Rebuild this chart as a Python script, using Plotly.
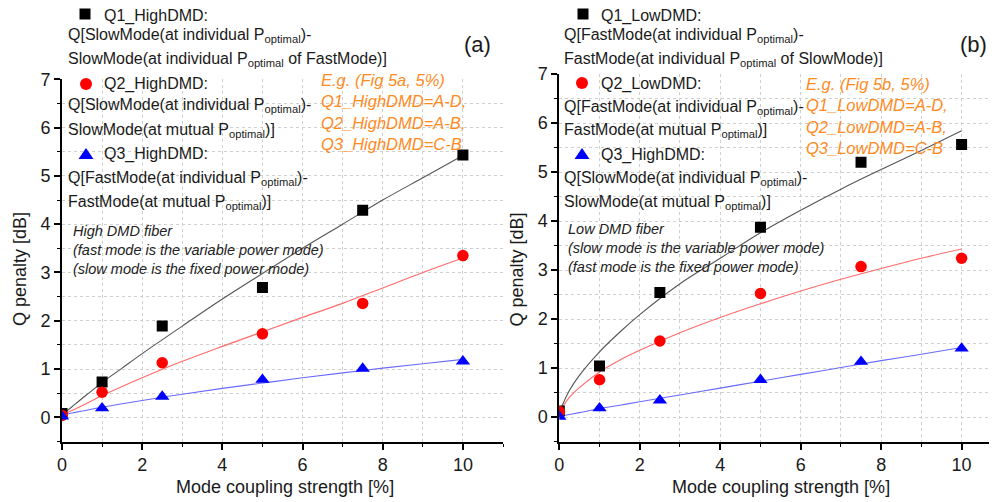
import plotly.graph_objects as go

# ---------------- data ----------------
x_pts = [0, 1, 2.5, 5, 7.5, 10]

# panel (a) High DMD
q1_high = [0.08, 0.73, 1.89, 2.69, 4.29, 5.43]
q2_high = [0.04, 0.52, 1.13, 1.73, 2.36, 3.35]
q3_high = [0.02, 0.19, 0.43, 0.78, 1.01, 1.16]

fit_x_a = [0, 0.25, 0.5, 1, 1.5, 2, 3, 4, 5, 6, 7, 8, 9, 10]
fit_q1_high = [0.05, 0.22, 0.39, 0.72, 1.02, 1.32, 1.89, 2.45, 2.98, 3.50, 4.00, 4.50, 4.96, 5.42]
fit_q2_high = [0.05, 0.14, 0.24, 0.45, 0.64, 0.82, 1.16, 1.47, 1.77, 2.07, 2.36, 2.68, 3.00, 3.30]
fit_q3_high = [0.05, 0.09, 0.13, 0.21, 0.28, 0.35, 0.48, 0.60, 0.71, 0.82, 0.92, 1.02, 1.11, 1.20]

# panel (b) Low DMD
q1_low = [0.12, 1.04, 2.54, 3.87, 5.20, 5.56]
q2_low = [0.11, 0.76, 1.55, 2.52, 3.07, 3.24]
q3_low = [0.01, 0.18, 0.34, 0.76, 1.13, 1.40]

fit_x_b = [0.05, 0.25, 0.5, 1, 1.5, 2, 3, 4, 5, 6, 7, 8, 9, 10]
fit_q1_low = [0.19, 0.54, 0.85, 1.33, 1.73, 2.09, 2.72, 3.24, 3.76, 4.22, 4.65, 5.05, 5.44, 5.84]
fit_q2_low = [0.16, 0.40, 0.60, 0.92, 1.16, 1.36, 1.72, 2.03, 2.31, 2.57, 2.81, 3.03, 3.24, 3.43]
fit_q3_low = [0.02, 0.05, 0.09, 0.17, 0.24, 0.31, 0.45, 0.59, 0.73, 0.87, 1.01, 1.15, 1.28, 1.42]

P = "P<sub>optimal</sub>"
legend_a = [
    ("Q1_HighDMD:", True),
    ("Q[SlowMode(at individual " + P + ")-", False),
    ("SlowMode(at individual " + P + " of FastMode)]", False),
    ("Q2_HighDMD:", True),
    ("Q[SlowMode(at individual " + P + ")-", False),
    ("SlowMode(at mutual " + P + ")]", False),
    ("Q3_HighDMD:", True),
    ("Q[FastMode(at individual " + P + ")-", False),
    ("FastMode(at mutual " + P + ")]", False),
]
legend_b = [
    ("Q1_LowDMD:", True),
    ("Q[FastMode(at individual " + P + ")-", False),
    ("FastMode(at individual " + P + " of SlowMode)]", False),
    ("Q2_LowDMD:", True),
    ("Q[FastMode(at individual " + P + ")-", False),
    ("FastMode(at mutual " + P + ")]", False),
    ("Q3_HighDMD:", True),
    ("Q[SlowMode(at individual " + P + ")-", False),
    ("SlowMode(at mutual " + P + ")]", False),
]
orange_a = ["E.g. (Fig 5a, 5%)", "Q1_HighDMD=A-D,", "Q2_HighDMD=A-B,", "Q3_HighDMD=C-B"]
orange_b = ["E.g. (Fig 5b, 5%)", "Q1_LowDMD=A-D,", "Q2_LowDMD=A-B,", "Q3_LowDMD=C-B"]
note_a = ["High DMD fiber", "(fast mode is the variable power mode)", "(slow mode is the fixed power mode)"]
note_b = ["Low DMD fiber", "(slow mode is the variable power mode)", "(fast mode is the fixed power mode)"]

# ---------------- styling ----------------
# page body has an 8px margin: the figure occupies page pixels 8..997 x 8..502
OFF = 8
W, H = 997 - OFF, 502 - OFF
FONT = "Liberation Sans, Arial, sans-serif"
BLACK, RED, BLUE = "#000000", "#FF0000", "#0000FF"
LGRAY, LRED, LBLUE = "#555555", "#FF6A6A", "#6A6AFF"
ORANGE = "#FF8A1E"
GRID = "#CFCFCF"

def px(x):
    return (x - OFF) / W

def py(y):
    return 1 - (y - OFF) / H

fig = go.Figure()

panels = [
    ("x", "y", fit_x_a, [fit_q1_high, fit_q2_high, fit_q3_high], [q1_high, q2_high, q3_high]),
    ("x2", "y2", fit_x_b, [fit_q1_low, fit_q2_low, fit_q3_low], [q1_low, q2_low, q3_low]),
]
line_cols = [LGRAY, LRED, LBLUE]
mk_cols = [BLACK, RED, BLUE]
mk_sym = ["square", "circle", "triangle-up"]
mk_size = [11, 11.5, 12.5]

for xa_, ya_, fx, fits, pts in panels:
    for fy, c in zip(fits, line_cols):
        fig.add_trace(go.Scatter(x=fx, y=fy, mode="lines", line=dict(color=c, width=1.1, shape="spline"),
                                 xaxis=xa_, yaxis=ya_, showlegend=False, hoverinfo="skip"))
    for yv, c, s, sz in zip(pts, mk_cols, mk_sym, mk_size):
        fig.add_trace(go.Scatter(x=x_pts, y=yv, mode="markers",
                                 marker=dict(symbol=s, color=c, size=sz, line=dict(width=0)),
                                 xaxis=xa_, yaxis=ya_, showlegend=False))

# legend symbols as pixel-sized shapes
shapes = []
leg_pos = [
    ([85, 86, 86], [14, 84, 154]),
    ([583, 582, 582], [14, 83, 154]),
]
for lx, ly in leg_pos:
    shapes.append(dict(type="rect", xref="paper", yref="paper", xsizemode="pixel", ysizemode="pixel",
                       xanchor=px(lx[0]), yanchor=py(ly[0]), x0=-5.5, x1=5.5, y0=-5.5, y1=5.5,
                       fillcolor=BLACK, line=dict(width=0)))
    shapes.append(dict(type="circle", xref="paper", yref="paper", xsizemode="pixel", ysizemode="pixel",
                       xanchor=px(lx[1]), yanchor=py(ly[1]), x0=-6, x1=6, y0=-6, y1=6,
                       fillcolor=RED, line=dict(width=0)))
    shapes.append(dict(type="path", xref="paper", yref="paper", xsizemode="pixel", ysizemode="pixel",
                       xanchor=px(lx[2]), yanchor=py(ly[2]), path="M -7.5 -5 L 7.5 -5 L 0 6 Z",
                       fillcolor=BLUE, line=dict(width=0)))

def axis_common(dtick, mdtick):
    return dict(
        showline=True, linecolor="black", linewidth=2,
        tickmode="linear", tick0=0, dtick=dtick,
        ticks="outside", ticklen=6, tickwidth=1.6, tickcolor="black",
        showgrid=True, gridcolor=GRID, griddash="dot", gridwidth=1,
        zeroline=False, mirror=False, automargin=False,
        tickfont=dict(family=FONT, size=18, color="#1a1a1a"),
        minor=dict(dtick=mdtick, ticks="outside", ticklen=3.5, tickcolor="black", tickwidth=1.4,
                   showgrid=True, gridcolor=GRID, griddash="dot", gridwidth=1),
    )

ybot, ytop_a, ytop_b = py(441.5), py(79.3), py(74)

xa = axis_common(2, 1)
xa.update(domain=[px(62), px(503)], range=[0, 11], anchor="y")
ya = axis_common(1, 0.5)
ya.update(domain=[ybot, ytop_a], range=[-0.5, 7], anchor="x")
xb = axis_common(2, 1)
xb.update(domain=[px(559.3), 1], range=[0, 10.88], anchor="y2")
yb = axis_common(1, 0.5)
yb.update(domain=[ybot, ytop_b], range=[-0.5, 7], anchor="x2")

annotations = []

def txt(x, y, text, size=16, color="#1a1a1a", xanchor="left", yanchor="middle", italic=False, angle=0, align="left"):
    if italic:
        text = "<i>" + text.replace("<br>", "</i><br><i>") + "</i>"
    annotations.append(dict(
        x=px(x), y=py(y), xref="paper", yref="paper", text=text, showarrow=False,
        xanchor=xanchor, yanchor=yanchor, align=align, textangle=angle, borderpad=0,
        font=dict(family=FONT, size=size, color=color),
    ))

leg_y_a = [16, 35, 59, 84, 106, 130, 154, 178, 202]
leg_y_b = [16, 35, 59, 84, 107, 131, 155, 178, 202]
for (t, first), y in zip(legend_a, leg_y_a):
    txt(103 if first else 67, y, t)
for (t, first), y in zip(legend_b, leg_y_b):
    txt(600 if first else 563, y, t)

txt(320, 111.5, "<br>".join(orange_a), size=16.5, color=ORANGE, italic=True)
txt(805, 115.5, "<br>".join(orange_b), size=16.5, color=ORANGE, italic=True)
txt(72, 250, "<br>".join(note_a), size=14.5, italic=True, color="#222222")
txt(567, 248, "<br>".join(note_b), size=14.5, italic=True, color="#222222")

txt(477, 44, "(a)", size=22, xanchor="center")
txt(973, 44, "(b)", size=22, xanchor="center")

txt(284.5, 487, "Mode coupling strength [%]", size=18, xanchor="center")
txt(780.5, 487, "Mode coupling strength [%]", size=18, xanchor="center")
txt(20, 269, "Q penalty [dB]", size=18, xanchor="center", angle=-90)
txt(516.5, 270, "Q penalty [dB]", size=18, xanchor="center", angle=-90)

fig.update_layout(
    width=W, height=H,
    margin=dict(l=0, r=0, t=0, b=0, pad=0, autoexpand=False),
    paper_bgcolor="white", plot_bgcolor="white",
    showlegend=False,
    xaxis=xa, yaxis=ya, xaxis2=xb, yaxis2=yb,
    annotations=annotations,
    shapes=shapes,
    font=dict(family=FONT),
)

fig.write_html("out.html")
